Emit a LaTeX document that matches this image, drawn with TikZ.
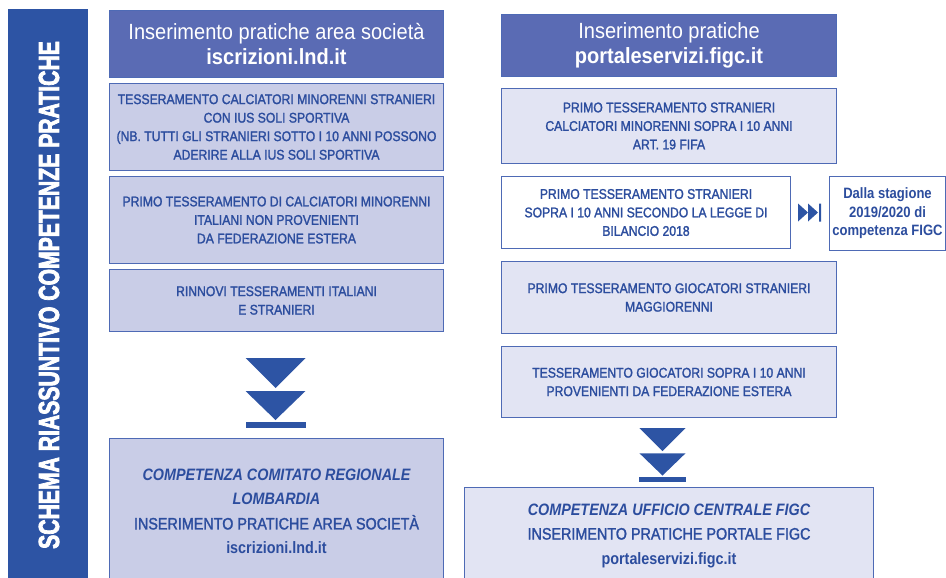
\documentclass[tikz,border=0pt]{standalone}
\usepackage{fontspec}
\setmainfont[FakeStretch=0.87, UprightFeatures={FakeBold=1.6}, ItalicFeatures={FakeBold=1.6}]{Liberation Sans}
\newfontfamily\headfont[FakeStretch=0.91]{Liberation Sans}
\newfontfamily\sidefont[FakeStretch=0.73, BoldFeatures={FakeBold=2.5}]{Liberation Sans}
\usetikzlibrary{calc}

\definecolor{barblue}{HTML}{2D54A4}
\definecolor{headblue}{HTML}{5A6BB4}
\definecolor{lineblue}{HTML}{4E6AB5}
\definecolor{textblue}{HTML}{2C4D9E}
\definecolor{fillA}{HTML}{C9CDE7}
\definecolor{fillB}{HTML}{E2E4F3}

\tikzset{
  head/.style={draw=lineblue, fill=headblue, text=white, line width=1pt, anchor=north west,
    align=center, inner sep=0pt, font=\headfont\fontsize{22}{24.5}\selectfont},
  pbox/.style={draw=lineblue, line width=1pt, anchor=north west, align=center, inner sep=0pt,
    text=textblue, font=\fontsize{14}{18.5}\selectfont},
  pboxA/.style={pbox, fill=fillA},
  pboxB/.style={pbox, fill=fillB},
  pboxW/.style={pbox, fill=white},
  result/.style={pbox, font=\fontsize{16.5}{24.5}\selectfont},
  dblarrow/.pic={
    \fill[barblue] (-30,0) -- (30,0) -- (0,30) -- cycle
                   (-30,33) -- (30,33) -- (0,62) -- cycle;
    \fill[barblue] (-30,64) rectangle (30,70);
  }
}

\begin{document}
\begin{tikzpicture}[x=1pt, y=-1pt]
\path[use as bounding box, clip] (0,0) rectangle (946,578);

% side banner
\fill[barblue] (8,9) rectangle (88,600);
\node[rotate=90, text=white, font=\sidefont\fontsize{29}{29}\selectfont] (title) at (49,295)
  {\textbf{SCHEMA RIASSUNTIVO COMPETENZE PRATICHE}};

% left column
\node[head, minimum width=334pt, minimum height=67pt] (lh) at (109,10)
  {Inserimento pratiche area società\\\textbf{iscrizioni.lnd.it}};
\node[pboxA, minimum width=334pt, minimum height=87pt] (l1) at (109,83)
  {TESSERAMENTO CALCIATORI MINORENNI STRANIERI\\CON IUS SOLI SPORTIVA\\(NB. TUTTI GLI STRANIERI SOTTO I 10 ANNI POSSONO\\ADERIRE ALLA IUS SOLI SPORTIVA};
\node[pboxA, minimum width=334pt, minimum height=87pt] (l2) at (109,176)
  {PRIMO TESSERAMENTO DI CALCIATORI MINORENNI\\ITALIANI NON PROVENIENTI\\DA FEDERAZIONE ESTERA};
\node[pboxA, minimum width=334pt, minimum height=62pt] (l3) at (109,269)
  {RINNOVI TESSERAMENTI ITALIANI\\E STRANIERI};
\node[result, fill=fillA, minimum width=334pt, minimum height=146pt] (lc) at (109,438)
  {{\bfseries\itshape COMPETENZA COMITATO REGIONALE}\\{\bfseries\itshape LOMBARDIA}\\INSERIMENTO PRATICHE AREA SOCIETÀ\\\textbf{iscrizioni.lnd.it}};
\pic at ($(lc.north)+(-1,-80)$) {dblarrow};

% right column
\node[head, minimum width=335pt, minimum height=62pt] (rh) at (501,14)
  {Inserimento pratiche\\\textbf{portaleservizi.figc.it}};
\node[pboxB, minimum width=335pt, minimum height=75pt] (r1) at (501,88)
  {PRIMO TESSERAMENTO STRANIERI\\CALCIATORI MINORENNI SOPRA I 10 ANNI\\ART. 19 FIFA};
\node[pboxW, minimum width=289pt, minimum height=72pt] (r2) at (501,176)
  {PRIMO TESSERAMENTO STRANIERI\\SOPRA I 10 ANNI SECONDO LA LEGGE DI\\BILANCIO 2018};
\node[pboxW, minimum width=116pt, minimum height=74pt, font=\bfseries\fontsize{15}{18.5}\selectfont] (r3) at (829,176)
  {Dalla stagione\\2019/2020 di\\competenza FIGC};
\node[pboxB, minimum width=335pt, minimum height=72pt] (r4) at (501,261)
  {PRIMO TESSERAMENTO GIOCATORI STRANIERI\\MAGGIORENNI};
\node[pboxB, minimum width=335pt, minimum height=71pt] (r5) at (501,346)
  {TESSERAMENTO GIOCATORI SOPRA I 10 ANNI\\PROVENIENTI DA FEDERAZIONE ESTERA};
\node[result, fill=fillB, minimum width=409pt, minimum height=96pt] (rc) at (464,487)
  {{\bfseries\itshape COMPETENZA UFFICIO CENTRALE FIGC}\\INSERIMENTO PRATICHE PORTALE FIGC\\\textbf{portaleservizi.figc.it}};
\pic[scale=0.767] at ($(rc.north)+(-6.5,-59)$) {dblarrow};

% skip-forward mark between r2 and r3
\fill[barblue] ($(r2.east)+(7,-9)$) -- ++(10,9) -- ++(-10,9) -- cycle
               ($(r2.east)+(17,-9)$) -- ++(10,9) -- ++(-10,9) -- cycle
               ($(r2.east)+(28,-9)$) rectangle ++(2,18);
\end{tikzpicture}
\end{document}
